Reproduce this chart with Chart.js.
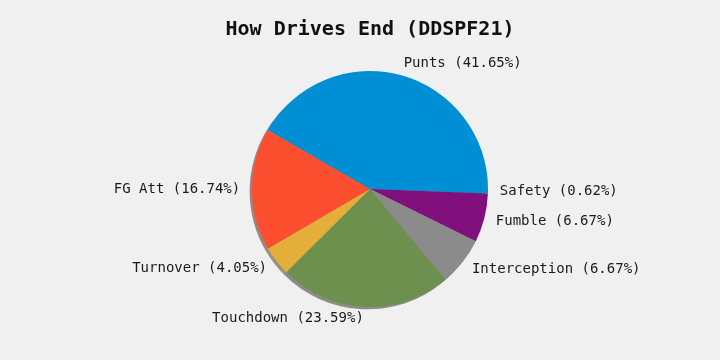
<!DOCTYPE html>
<html>
<head>
<meta charset="utf-8">
<script src="https://cdn.jsdelivr.net/npm/chart.js@4.4.1/dist/chart.umd.min.js"></script>
<style>
    html, body { margin: 0; padding: 0; background: #f0f0f0; }
    #wrap { width: 720px; height: 360px; }
</style>
</head>
<body>
<div id="wrap"><canvas id="pie"></canvas></div>
<script>
// categories and shares (percent), counter-clockwise from 3 o'clock
var categories = ["Punts", "FG Att", "Turnover", "Touchdown", "Interception", "Fumble", "Safety"];
var shares = [41.65, 16.74, 4.05, 23.59, 6.67, 6.67, 0.62];
var sliceColors = ["#008fd5", "#fc4f30", "#e5ae38", "#6d904f", "#8b8b8b", "#810f7c", "#008fd5"];

function hexToRgb(hex) {
    var result = /^#?([a-f\d]{2})([a-f\d]{2})([a-f\d]{2})$/i.exec(hex);
    return result ? {
        r: parseInt(result[1], 16),
        g: parseInt(result[2], 16),
        b: parseInt(result[3], 16)
    } : null;
};

function shadowColor(hex) {
    var c = hexToRgb(hex);
    return "rgba(" + Math.round(c.r * 0.3) + "," + Math.round(c.g * 0.3) + "," + Math.round(c.b * 0.3) + ",0.5)";
};

// Chart.js goes clockwise, so feed the slices reversed
var labels = [];
var data = [];
var colors = [];
for (var i = categories.length - 1; i >= 0; i--) {
    labels.push(categories[i] + " (" + shares[i].toFixed(2) + "%)");
    data.push(shares[i]);
    colors.push(sliceColors[i]);
}

var bgPlugin = {
    id: "bg",
    beforeDraw: function (chart) {
        var ctx = chart.ctx;
        ctx.save();
        ctx.fillStyle = "#f0f0f0";
        ctx.fillRect(0, 0, chart.width, chart.height);
        ctx.restore();
    }
};

// drop shadow like matplotlib's shadow=True
var shadowPlugin = {
    id: "pieShadow",
    beforeDatasetsDraw: function (chart) {
        var ctx = chart.ctx;
        var arcs = chart.getDatasetMeta(0).data;
        ctx.save();
        arcs.forEach(function (arc, idx) {
            var p = arc.getProps(["x", "y", "startAngle", "endAngle", "outerRadius"], true);
            var dx = -0.02 * p.outerRadius;
            var dy = 0.02 * p.outerRadius;
            ctx.beginPath();
            ctx.moveTo(p.x + dx, p.y + dy);
            ctx.arc(p.x + dx, p.y + dy, p.outerRadius, p.startAngle, p.endAngle);
            ctx.closePath();
            ctx.fillStyle = shadowColor(colors[idx]);
            ctx.fill();
        });
        ctx.restore();
    }
};

// labels at 1.1 * radius, like matplotlib labeldistance
var labelPlugin = {
    id: "pieLabels",
    afterDatasetsDraw: function (chart) {
        var ctx = chart.ctx;
        var arcs = chart.getDatasetMeta(0).data;
        ctx.save();
        ctx.font = "14px 'DejaVu Sans Mono', monospace";
        ctx.fillStyle = "#1a1a1a";
        ctx.textBaseline = "middle";
        arcs.forEach(function (arc, idx) {
            var p = arc.getProps(["x", "y", "startAngle", "endAngle", "outerRadius"], true);
            var mid = (p.startAngle + p.endAngle) / 2;
            var r = p.outerRadius * 1.1;
            var tx = p.x + Math.cos(mid) * r;
            var ty = p.y + Math.sin(mid) * r;
            ctx.textAlign = Math.cos(mid) > 0 ? "left" : "right";
            ctx.fillText(labels[idx], tx, ty);
        });
        ctx.restore();
    }
};

var ctx = document.getElementById("pie").getContext("2d");

new Chart(ctx, {
    type: "pie",
    data: {
        labels: labels,
        datasets: [{
            data: data,
            backgroundColor: colors,
            borderWidth: 0,
            hoverOffset: 0,
            offset: 0
        }]
    },
    options: {
        responsive: true,
        maintainAspectRatio: false,
        animation: false,
        rotation: 90,
        layout: { padding: { left: 20, right: 0, top: 0, bottom: 53 } },
        plugins: {
            legend: { display: false },
            tooltip: { enabled: false },
            title: {
                display: true,
                text: "How Drives End (DDSPF21)",
                color: "#111111",
                font: { family: "'DejaVu Sans Mono', monospace", size: 20, weight: "bold", lineHeight: 1.2 },
                padding: { top: 18, bottom: 29 }
            }
        }
    },
    plugins: [bgPlugin, shadowPlugin, labelPlugin]
});
</script>
</body>
</html>
